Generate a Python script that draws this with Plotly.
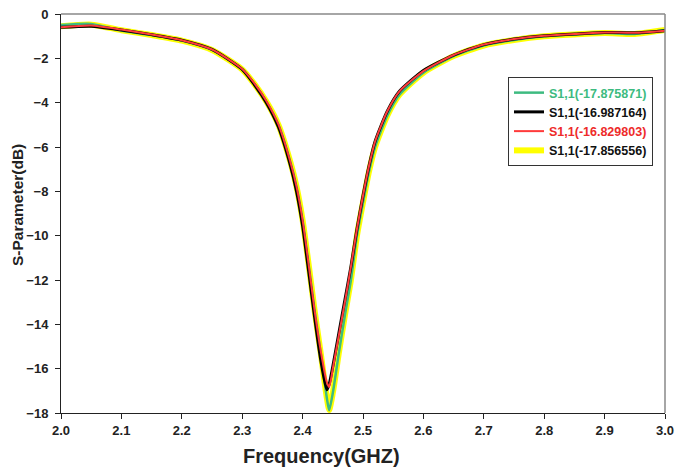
import plotly.graph_objects as go

freq = [2.00, 2.05, 2.10, 2.15, 2.20, 2.25, 2.30, 2.32, 2.34, 2.36, 2.38, 2.39, 2.40, 2.41,
        2.42, 2.43, 2.44, 2.444, 2.45, 2.46, 2.47, 2.48, 2.49, 2.50, 2.51, 2.52, 2.54, 2.56,
        2.60, 2.65, 2.70, 2.75, 2.80, 2.85, 2.90, 2.95, 3.00]

s_green = [-0.50, -0.45, -0.75, -0.95, -1.20, -1.62, -2.50, -3.15, -3.95, -5.00, -6.70, -7.80,
           -9.30, -11.30, -13.40, -15.30, -17.30, -17.88, -17.10, -15.30, -13.60, -12.00, -10.00,
           -8.50, -7.10, -6.00, -4.60, -3.65, -2.65, -1.90, -1.42, -1.17, -1.00, -0.92, -0.86,
           -0.90, -0.72]
s_black = [-0.60, -0.55, -0.72, -0.93, -1.18, -1.60, -2.50, -3.18, -4.00, -5.10, -6.85, -8.00,
           -9.55, -11.60, -13.70, -15.60, -16.95, -16.70, -15.90, -14.40, -12.90, -11.40, -9.70,
           -8.20, -6.85, -5.75, -4.40, -3.50, -2.55, -1.85, -1.38, -1.13, -0.98, -0.90, -0.83,
           -0.85, -0.75]
s_red = [-0.60, -0.52, -0.70, -0.92, -1.18, -1.60, -2.48, -3.12, -3.92, -4.98, -6.70, -7.80,
         -9.30, -11.30, -13.40, -15.20, -16.60, -16.83, -16.00, -14.50, -13.00, -11.40, -9.70,
         -8.20, -6.85, -5.75, -4.40, -3.50, -2.58, -1.85, -1.38, -1.13, -0.98, -0.90, -0.83,
         -0.85, -0.75]
s_yellow = [-0.55, -0.48, -0.73, -0.95, -1.20, -1.62, -2.50, -3.15, -3.95, -5.00, -6.70, -7.80,
            -9.30, -11.30, -13.40, -15.30, -17.30, -17.86, -17.10, -15.30, -13.60, -12.00, -10.00,
            -8.50, -7.10, -6.00, -4.60, -3.65, -2.65, -1.90, -1.42, -1.17, -1.00, -0.92, -0.86,
            -0.90, -0.72]

names = ["S1,1(-17.875871)", "S1,1(-16.987164)", "S1,1(-16.829803)", "S1,1(-17.856556)"]
x_ticks = [2.0, 2.1, 2.2, 2.3, 2.4, 2.5, 2.6, 2.7, 2.8, 2.9, 3.0]
x_ticklabels = ["2.0", "2.1", "2.2", "2.3", "2.4", "2.5", "2.6", "2.7", "2.8", "2.9", "3.0"]
y_ticks = [0, -2, -4, -6, -8, -10, -12, -14, -16, -18]

GREEN = "#3dbb80"
FONT = "Liberation Sans, Arial, sans-serif"

fig = go.Figure()
fig.add_trace(go.Scatter(x=freq, y=s_yellow, mode="lines", legendrank=4,
                         name=names[3],
                         line=dict(color="#ffff00", width=6, shape="spline", smoothing=0.6)))
fig.add_trace(go.Scatter(x=freq, y=s_green, mode="lines", legendrank=1,
                         name="<span style='color:%s'>%s</span>" % (GREEN, names[0]),
                         line=dict(color=GREEN, width=2.5, shape="spline", smoothing=0.6)))
fig.add_trace(go.Scatter(x=freq, y=s_black, mode="lines", legendrank=2,
                         name=names[1],
                         line=dict(color="#000000", width=3, shape="spline", smoothing=0.6)))
fig.add_trace(go.Scatter(x=freq, y=s_red, mode="lines", legendrank=3,
                         name="<span style='color:#ee2a2a'>%s</span>" % names[2],
                         line=dict(color="#ff3b3b", width=2, shape="spline", smoothing=0.6)))

fig.update_layout(
    width=676, height=468,
    margin=dict(l=61, r=11, t=14, b=55),
    paper_bgcolor="white", plot_bgcolor="white",
    font=dict(family=FONT, color="#111111", size=11),
    legend=dict(x=(508 - 61) / 604, y=(413 - 77) / 399, xanchor="left", yanchor="top",
                bgcolor="white", bordercolor="#333333", borderwidth=1,
                font=dict(family=FONT, size=12.5, color="#111111", weight="bold"),
                tracegroupgap=0, itemwidth=30),
    showlegend=True,
)
fig.update_xaxes(range=[2.0, 3.0], tickvals=x_ticks, ticktext=x_ticklabels, automargin=False,
                 showgrid=False, zeroline=False, showline=True, linecolor="#222222", linewidth=1,
                 ticks="outside", ticklen=5, tickcolor="#222222",
                 tickfont=dict(family=FONT, size=13, color="#222222", weight="bold"))
fig.update_yaxes(range=[-18, 0], tickvals=y_ticks, automargin=False, ticklabelstandoff=4,
                 showgrid=False, zeroline=False, showline=True, linecolor="#222222", linewidth=1,
                 ticks="outside", ticklen=5, tickcolor="#222222",
                 tickfont=dict(family=FONT, size=13, color="#222222", weight="bold"))

fig.add_shape(type="line", xref="paper", yref="paper", x0=0, x1=1, y0=1, y1=1,
              line=dict(color="#888888", width=1.5))
fig.add_shape(type="line", xref="paper", yref="paper", x0=1, x1=1, y0=0, y1=1,
              line=dict(color="#888888", width=1.5))

fig.add_annotation(text="<b>Frequency(GHZ)</b>", xref="paper", yref="paper",
                   x=0.432, y=-0.108, xanchor="center", yanchor="middle", showarrow=False,
                   font=dict(family=FONT, size=20, color="#222222"))
fig.add_annotation(text="<b>S-Parameter(dB)</b>", xref="paper", yref="paper",
                   x=-0.072, y=0.52, xanchor="center", yanchor="middle", showarrow=False,
                   textangle=-90, font=dict(family=FONT, size=15.5, color="#222222"))

fig.write_html("out.html", config={"displayModeBar": False},
               post_script="document.body.style.margin='0px';document.body.style.overflow='hidden';")
